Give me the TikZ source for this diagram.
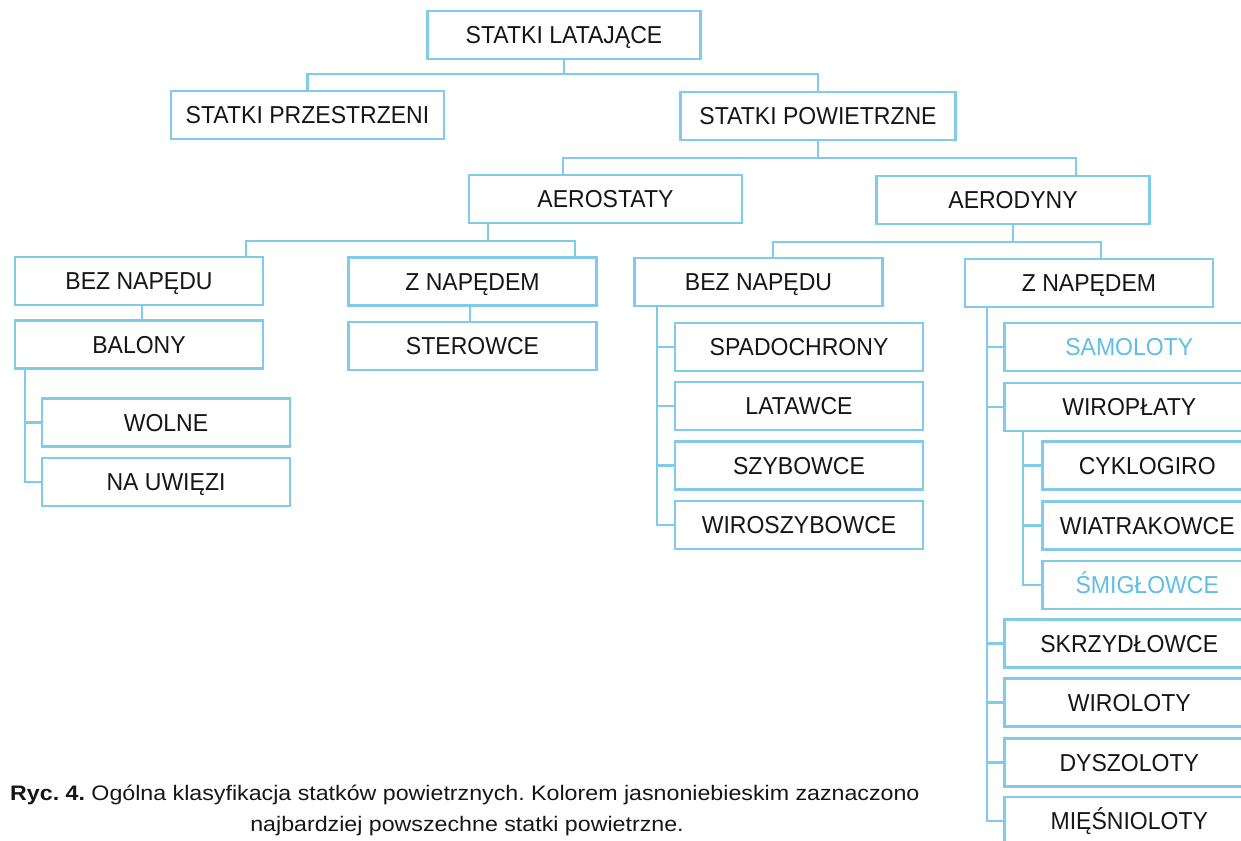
\documentclass[tikz,border=0pt]{standalone}
\usepackage{fontspec}
\setmainfont{Liberation Sans}
\usepackage{graphicx}
\frenchspacing
\definecolor{boxblue}{RGB}{128,204,232}
\definecolor{txtblue}{RGB}{95,190,228}
\definecolor{ink}{RGB}{22,22,22}
\newcommand\bt[1]{\scalebox{0.94}[1]{#1}}
\newcommand\ct[1]{\scalebox{1.105}[1]{#1}}
\tikzset{
 bx/.style={draw=boxblue, line width=2.5pt, fill=white, inner sep=0pt, minimum height=48pt,
   text height=17.5pt, text depth=0pt, font=\fontsize{24.5}{24.5}\selectfont, text=ink},
 bw/.style={bx, minimum width=273pt},
 bm/.style={bx, minimum width=248pt},
 br/.style={bx, minimum width=250pt, anchor=west},
 bs/.style={bx, minimum width=210pt, anchor=west},
 ln/.style={draw=boxblue, line width=2.5pt},
 hl/.style={text=txtblue},
 captxt/.style={font=\fontsize{21}{24}\selectfont, text=ink, inner sep=0pt}
}
\begin{document}
\begin{tikzpicture}[x=1pt,y=-1pt]
\useasboundingbox (0,0) rectangle (1241,840);
\clip (0,0) rectangle (1241,840);
\fill[white] (0,0) rectangle (1241,840);

% nodes
\node[bw] (lat) at (564,35) {\bt{STATKI LATAJĄCE}};
\node[bw] (prz) at (307.5,115) {\bt{STATKI PRZESTRZENI}};
\node[bw, minimum width=275pt] (pow) at (818,116) {\bt{STATKI POWIETRZNE}};
\node[bw] (aes) at (605.5,199) {\bt{AEROSTATY}};
\node[bw] (ady) at (1013,200) {\bt{AERODYNY}};

\node[bm] (bn1) at (139,281) {\bt{BEZ NAPĘDU}};
\node[bm] (bal) at (139,344.5) {\bt{BALONY}};
\node[bm] (wol) at (166,422.5) {\bt{WOLNE}};
\node[bm] (nau) at (166,482) {\bt{NA UWIĘZI}};
\node[bm] (zn1) at (472.5,281.5) {\bt{Z NAPĘDEM}};
\node[bm] (ste) at (472.5,346) {\bt{STEROWCE}};

\node[bm] (bn2) at (758.5,282) {\bt{BEZ NAPĘDU}};
\node[bm] (spa) at (799,347) {\bt{SPADOCHRONY}};
\node[bm] (law) at (799,406) {\bt{LATAWCE}};
\node[bm] (szy) at (799,465.5) {\bt{SZYBOWCE}};
\node[bm] (wsz) at (799,525) {\bt{WIROSZYBOWCE}};

\node[bm] (zn2) at (1089,283) {\bt{Z NAPĘDEM}};
\node[br, hl] (sam) at (1003,347) {\bt{SAMOLOTY}};
\node[br] (wpl) at (1003,407) {\bt{WIROPŁATY}};
\node[bs] (cyk) at (1041,465.5) {\bt{CYKLOGIRO}};
\node[bs] (wia) at (1041,525.5) {\bt{WIATRAKOWCE}};
\node[bs, hl] (smi) at (1041,585) {\bt{ŚMIGŁOWCE}};
\node[br] (skr) at (1003,643.5) {\bt{SKRZYDŁOWCE}};
\node[br] (wil) at (1003,702.5) {\bt{WIROLOTY}};
\node[br] (dys) at (1003,762.5) {\bt{DYSZOLOTY}};
\node[br] (mie) at (1003,821) {\bt{MIĘŚNIOLOTY}};

% junction coordinates
\coordinate (j1) at (564,74);
\coordinate (j2) at (818,158);
\coordinate (j3) at (488,241);
\coordinate (j4) at (1013,242);
\coordinate (v1) at (25,0);
\coordinate (v2) at (657,0);
\coordinate (v3) at (987,0);
\coordinate (v4) at (1023,0);

% connectors
\draw[ln] (lat.south) -- (j1);
\draw[ln] (prz.north) |- (j1) -| (pow.north);
\draw[ln] (pow.south) -- (j2);
\draw[ln] ([xshift=-42.5pt]aes.north) |- (j2) -| ([xshift=63pt]ady.north);
\draw[ln] ([xshift=-117.5pt]aes.south) -- (j3);
\draw[ln] ([xshift=107pt]bn1.north) |- (j3) -| ([xshift=102.5pt]zn1.north);
\draw[ln] (ady.south) -- (j4);
\draw[ln] ([xshift=14.5pt]bn2.north) |- (j4) -| ([xshift=12pt]zn2.north);
\draw[ln] ([xshift=3pt]bn1.south) -- ([xshift=3pt]bal.north);
\draw[ln] ([xshift=-2.5pt]zn1.south) -- ([xshift=-2.5pt]ste.north);

\draw[ln] (bal.south -| v1) |- (nau.west);
\draw[ln] (wol.west -| v1) -- (wol.west);

\draw[ln] (bn2.south -| v2) |- (wsz.west);
\draw[ln] (spa.west -| v2) -- (spa.west);
\draw[ln] (law.west -| v2) -- (law.west);
\draw[ln] (szy.west -| v2) -- (szy.west);

\draw[ln] (zn2.south -| v3) |- (mie.west);
\draw[ln] (sam.west -| v3) -- (sam.west);
\draw[ln] (wpl.west -| v3) -- (wpl.west);
\draw[ln] (skr.west -| v3) -- (skr.west);
\draw[ln] (wil.west -| v3) -- (wil.west);
\draw[ln] (dys.west -| v3) -- (dys.west);

\draw[ln] (wpl.south -| v4) |- (smi.west);
\draw[ln] (cyk.west -| v4) -- (cyk.west);
\draw[ln] (wia.west -| v4) -- (wia.west);

% caption
\node[captxt, anchor=base west] (c1) at (10,800) {\ct{\textbf{Ryc. 4.} Ogólna klasyfikacja statków powietrznych. Kolorem jasnoniebieskim zaznaczono}};
\node[captxt, anchor=base] (c2) at (467,831) {\ct{najbardziej powszechne statki powietrzne.}};
\end{tikzpicture}
\end{document}
